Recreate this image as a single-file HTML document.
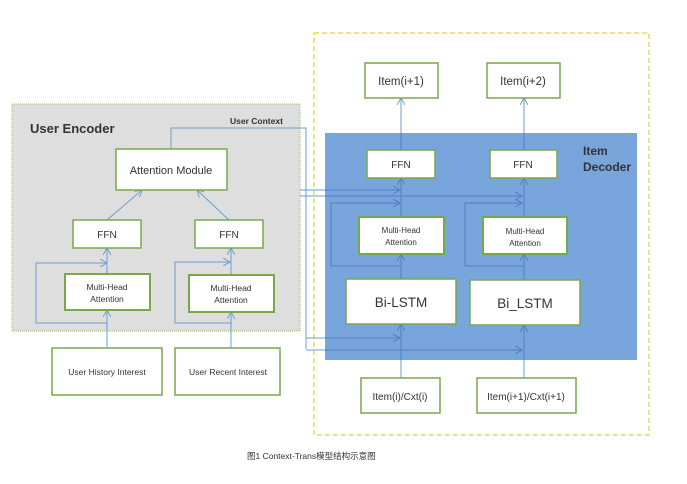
<!DOCTYPE html>
<html><head><meta charset="utf-8"><style>
html,body{margin:0;padding:0;background:#fff;width:687px;height:484px;overflow:hidden}
svg text{font-family:"Liberation Sans","Noto Sans CJK SC",sans-serif;fill:#333}
</style></head><body>
<svg width="687" height="484" viewBox="0 0 687 484" xmlns="http://www.w3.org/2000/svg">
<defs>
<marker id="a" markerWidth="8" markerHeight="8" refX="7" refY="4" orient="auto" markerUnits="userSpaceOnUse"><path d="M0,0 L7,4 L0,8" fill="none" stroke="#6a9fd0" stroke-width="1"/></marker>
<marker id="b" markerWidth="8" markerHeight="8" refX="7" refY="4" orient="auto" markerUnits="userSpaceOnUse"><path d="M0,0 L7,4 L0,8" fill="none" stroke="#4f80c4" stroke-width="1"/></marker>
</defs>
<rect x="12" y="104" width="288" height="227" fill="#dedede" stroke="#9bbb6a" stroke-dasharray="1,1"/>
<text x="30" y="133" font-size="13" font-weight="bold" fill="#222">User Encoder</text>
<text x="230" y="124" font-size="8.5" font-weight="bold">User Context</text>
<rect x="314" y="33" width="335" height="402" fill="none" stroke="#e8d23a" stroke-width="1.3" stroke-dasharray="5,3"/>
<rect x="325" y="133" width="312" height="227" fill="#78a5dc"/>
<text x="583" y="155" font-size="12" font-weight="bold" fill="#1e3a5f">Item</text>
<text x="583" y="171" font-size="12" font-weight="bold" fill="#1e3a5f">Decoder</text>
<g stroke="#6a9fd0" stroke-width="1" fill="none">
<path d="M171 149 V128 H306 V349"/>
<path d="M300 190 H325"/>
<path d="M300 196 H325"/>
<path d="M306 338 H325"/>
<path d="M306 350 H325"/>
<path d="M107 220 L142 190" marker-end="url(#a)"/>
<path d="M229 220 L197 190" marker-end="url(#a)"/>
<path d="M107 274 V248" marker-end="url(#a)"/>
<path d="M231 275 V248" marker-end="url(#a)"/>
<path d="M107 348 V310" marker-end="url(#a)"/>
<path d="M231 348 V312" marker-end="url(#a)"/>
<path d="M107 323 H36 V263 H107" marker-end="url(#a)"/>
<path d="M231 323 H175 V262 H230" marker-end="url(#a)"/>
<path d="M401 378 V360"/>
<path d="M524 378 V360"/>
<path d="M401 133 V98" marker-end="url(#a)"/>
<path d="M524 133 V98" marker-end="url(#a)"/>
</g>
<g stroke="#4f80c4" stroke-width="1" fill="none">
<path d="M325 190 H400" marker-end="url(#b)"/>
<path d="M325 196 H522" marker-end="url(#b)"/>
<path d="M325 338 H400" marker-end="url(#b)"/>
<path d="M325 350 H522" marker-end="url(#b)"/>
<path d="M401 360 V324" marker-end="url(#b)"/>
<path d="M524 360 V325" marker-end="url(#b)"/>
<path d="M401 279 V254" marker-end="url(#b)"/>
<path d="M524 280 V254" marker-end="url(#b)"/>
<path d="M401 217 V178" marker-end="url(#b)"/>
<path d="M524 217 V178" marker-end="url(#b)"/>
<path d="M401 150 V133"/>
<path d="M524 150 V133"/>
<path d="M401 266 H331 V203 H400" marker-end="url(#b)"/>
<path d="M524 266 H465 V203 H522" marker-end="url(#b)"/>
</g>
<g fill="#fff" stroke="#78a84a" stroke-width="1.5">
<rect x="116" y="149" width="111" height="41"/>
<rect x="73" y="220" width="68" height="28"/>
<rect x="195" y="220" width="68" height="28"/>
<rect x="65" y="274" width="85" height="36" stroke-width="2"/>
<rect x="189" y="275" width="85" height="37" stroke-width="2"/>
<rect x="52" y="348" width="110" height="47"/>
<rect x="175" y="348" width="105" height="47"/>
<rect x="365" y="63" width="73" height="35"/>
<rect x="487" y="63" width="73" height="35"/>
<rect x="367" y="150" width="68" height="28"/>
<rect x="490" y="150" width="67" height="28"/>
<rect x="359" y="217" width="85" height="37" stroke-width="2"/>
<rect x="483" y="217" width="84" height="37" stroke-width="2"/>
<rect x="346" y="279" width="110" height="45"/>
<rect x="470" y="280" width="110" height="45"/>
<rect x="361" y="378" width="79" height="35"/>
<rect x="477" y="378" width="99" height="35"/>
</g>
<g text-anchor="middle">
<text x="171" y="174" font-size="11">Attention Module</text>
<text x="107" y="238" font-size="10">FFN</text>
<text x="229" y="238" font-size="10">FFN</text>
<text x="107" y="290" font-size="8.5">Multi-Head</text>
<text x="107" y="302" font-size="8.5">Attention</text>
<text x="231" y="291" font-size="8.5">Multi-Head</text>
<text x="231" y="303" font-size="8.5">Attention</text>
<text x="107" y="375" font-size="8.5">User History  Interest</text>
<text x="228" y="375" font-size="8.5">User Recent Interest</text>
<text x="401" y="85" font-size="11.5">Item(i+1)</text>
<text x="523" y="85" font-size="11.5">Item(i+2)</text>
<text x="401" y="168" font-size="10">FFN</text>
<text x="523" y="168" font-size="10">FFN</text>
<text x="401" y="233" font-size="8">Multi-Head</text>
<text x="401" y="245" font-size="8">Attention</text>
<text x="525" y="234" font-size="8">Multi-Head</text>
<text x="525" y="246" font-size="8">Attention</text>
<text x="401" y="307" font-size="13.5">Bi-LSTM</text>
<text x="525" y="308" font-size="13.5">Bi_LSTM</text>
<text x="400" y="400" font-size="10">Item(i)/Cxt(i)</text>
<text x="526" y="400" font-size="10">Item(i+1)/Cxt(i+1)</text>
</g>
<text x="247" y="459" font-size="8.5" fill="#666">图1    Context-Trans模型结构示意图</text>
</svg>
</body></html>
